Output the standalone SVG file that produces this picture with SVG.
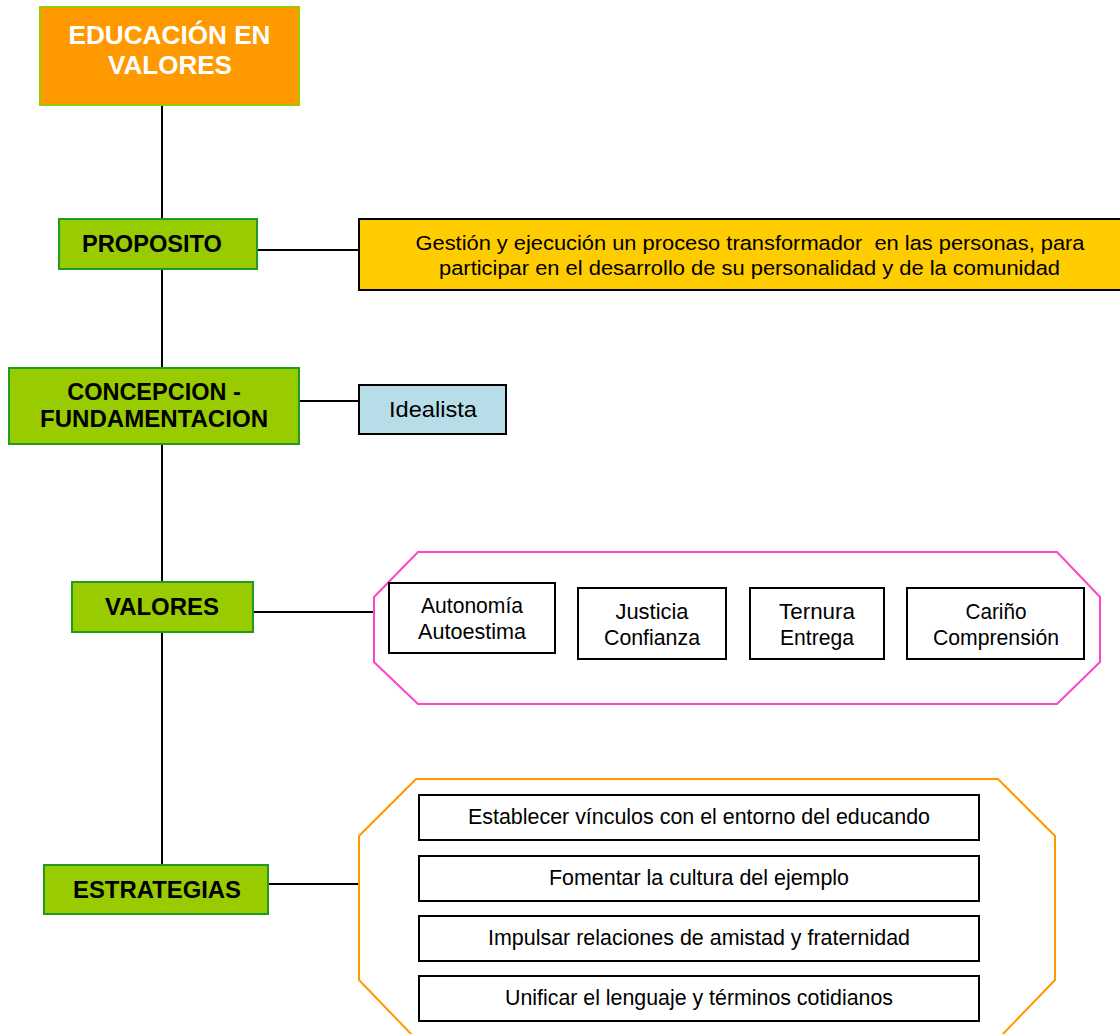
<svg xmlns="http://www.w3.org/2000/svg" width="1120" height="1034" viewBox="0 0 1120 1034">
  <style>
    .green { fill: #99CC00; stroke: #1F9B1F; stroke-width: 2; }
    .plain { fill: #FFFFFF; stroke: #000000; stroke-width: 2; }
    .lbl { font-family: "Liberation Sans", Arial, sans-serif; font-weight: bold; font-size: 23.5px; fill: #000000; text-anchor: middle; }
    .title { font-family: "Liberation Sans", Arial, sans-serif; font-weight: bold; font-size: 25.5px; fill: #FFFFFF; text-anchor: middle; }
    .txt { font-family: "Liberation Sans", Arial, sans-serif; font-size: 22px; fill: #000000; text-anchor: middle; }
    .long { font-size: 20.5px; white-space: pre; }
    .conn { stroke: #000000; stroke-width: 2; fill: none; }
  </style>
  <rect width="1120" height="1034" fill="#FFFFFF"/>

  <!-- connectors -->
  <g id="connectors">
    <line class="conn" x1="162" y1="105" x2="162" y2="865"/>
    <line class="conn" x1="257" y1="250" x2="359" y2="250"/>
    <line class="conn" x1="299" y1="401" x2="359" y2="401"/>
    <line class="conn" x1="253" y1="612" x2="374" y2="612"/>
    <line class="conn" x1="268" y1="884" x2="359" y2="884"/>
  </g>

  <!-- main topic -->
  <g id="educacion">
    <rect x="40" y="7" width="259" height="98" fill="#FF9900" stroke="#99CC00" stroke-width="2"/>
    <text class="title" x="169.5" y="44" textLength="202" lengthAdjust="spacingAndGlyphs">EDUCACIÓN EN</text>
    <text class="title" x="170" y="74" textLength="124" lengthAdjust="spacingAndGlyphs">VALORES</text>
  </g>

  <!-- purpose -->
  <g id="proposito">
    <rect class="green" x="59" y="219" width="198" height="50"/>
    <text class="lbl" x="152" y="252" textLength="140" lengthAdjust="spacingAndGlyphs">PROPOSITO</text>
  </g>
  <g id="proposito-texto">
    <rect x="359" y="219" width="800" height="71" fill="#FFCC00" stroke="#000000" stroke-width="2"/>
    <text class="txt long" x="750" y="250" textLength="669" lengthAdjust="spacingAndGlyphs">Gestión y ejecución un proceso transformador  en las personas, para</text>
    <text class="txt long" x="749.5" y="275" textLength="621" lengthAdjust="spacingAndGlyphs">participar en el desarrollo de su personalidad y de la comunidad</text>
  </g>

  <!-- conception -->
  <g id="concepcion">
    <rect class="green" x="9" y="368" width="290" height="76"/>
    <text class="lbl" x="154" y="400">CONCEPCION -</text>
    <text class="lbl" x="154" y="427" textLength="228" lengthAdjust="spacingAndGlyphs">FUNDAMENTACION</text>
  </g>
  <g id="idealista">
    <rect x="359" y="385" width="147" height="49" fill="#B7DEE8" stroke="#000000" stroke-width="2"/>
    <text class="txt" x="433" y="417" textLength="88" lengthAdjust="spacingAndGlyphs">Idealista</text>
  </g>

  <!-- values -->
  <g id="valores">
    <rect class="green" x="72" y="582" width="181" height="50"/>
    <text class="lbl" x="162" y="615" textLength="114" lengthAdjust="spacingAndGlyphs">VALORES</text>
  </g>
  <g id="valores-grupo">
    <polygon points="418,552 1057,552 1100,597 1100,662 1057,704 418,704 374,662 374,597" fill="none" stroke="#FF44CC" stroke-width="2"/>
    <g id="autonomia">
      <rect class="plain" x="389" y="583" width="166" height="70"/>
      <text class="txt" x="472" y="613" textLength="102" lengthAdjust="spacingAndGlyphs">Autonomía</text>
      <text class="txt" x="472" y="639" textLength="108" lengthAdjust="spacingAndGlyphs">Autoestima</text>
    </g>
    <g id="justicia">
      <rect class="plain" x="578" y="588" width="148" height="71"/>
      <text class="txt" x="652" y="619" textLength="73" lengthAdjust="spacingAndGlyphs">Justicia</text>
      <text class="txt" x="652" y="645" textLength="96" lengthAdjust="spacingAndGlyphs">Confianza</text>
    </g>
    <g id="ternura">
      <rect class="plain" x="750" y="588" width="134" height="71"/>
      <text class="txt" x="817" y="619" textLength="76" lengthAdjust="spacingAndGlyphs">Ternura</text>
      <text class="txt" x="817" y="645" textLength="74" lengthAdjust="spacingAndGlyphs">Entrega</text>
    </g>
    <g id="carino">
      <rect class="plain" x="907" y="588" width="177" height="71"/>
      <text class="txt" x="996" y="619" textLength="61" lengthAdjust="spacingAndGlyphs">Cariño</text>
      <text class="txt" x="996" y="645" textLength="126" lengthAdjust="spacingAndGlyphs">Comprensión</text>
    </g>
  </g>

  <!-- strategies -->
  <g id="estrategias">
    <rect class="green" x="44" y="865" width="224" height="49"/>
    <text class="lbl" x="157" y="898" textLength="168" lengthAdjust="spacingAndGlyphs">ESTRATEGIAS</text>
  </g>
  <g id="estrategias-grupo">
    <polygon points="416,779 998,779 1055,836 1055,980 1001,1036 413,1036 359,980 359,836" fill="none" stroke="#FF9900" stroke-width="2"/>
    <g id="estrategia-1">
      <rect class="plain" x="419" y="795" width="560" height="45"/>
      <text class="txt" x="699" y="824" textLength="462" lengthAdjust="spacingAndGlyphs">Establecer vínculos con el entorno del educando</text>
    </g>
    <g id="estrategia-2">
      <rect class="plain" x="419" y="856" width="560" height="45"/>
      <text class="txt" x="699" y="885" textLength="300" lengthAdjust="spacingAndGlyphs">Fomentar la cultura del ejemplo</text>
    </g>
    <g id="estrategia-3">
      <rect class="plain" x="419" y="916" width="560" height="45"/>
      <text class="txt" x="699" y="945" textLength="422" lengthAdjust="spacingAndGlyphs">Impulsar relaciones de amistad y fraternidad</text>
    </g>
    <g id="estrategia-4">
      <rect class="plain" x="419" y="976" width="560" height="45"/>
      <text class="txt" x="699" y="1005" textLength="388" lengthAdjust="spacingAndGlyphs">Unificar el lenguaje y términos cotidianos</text>
    </g>
  </g>
</svg>
